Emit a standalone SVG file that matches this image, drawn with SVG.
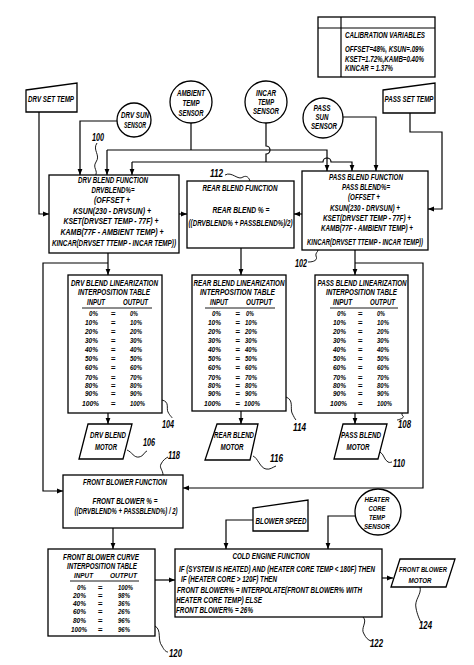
<svg xmlns="http://www.w3.org/2000/svg" width="474" height="665" viewBox="0 0 474 665">
<style>
.l{fill:none;stroke:#000;stroke-width:1.2}
.s{fill:none;stroke:#000;stroke-width:0.9}
.b{fill:#fff;stroke:#000;stroke-width:1.3}
text{font-family:"Liberation Sans",Arial,"DejaVu Sans",sans-serif;font-weight:bold;font-style:italic;font-size:9px;fill:#000}
.c{text-anchor:middle}
.n{font-size:10px}
.r text,text.r{font-size:8px}
</style>
<defs>
<marker id="a" markerWidth="6" markerHeight="6" refX="6" refY="3" orient="auto" markerUnits="userSpaceOnUse"><path d="M0,0.6 L6,3 L0,5.4 z"/></marker>
</defs>
<rect width="474" height="665" fill="#fff"/>

<g id="connectors">
<path class="l" d="M39,112 V214 H49" marker-end="url(#a)"/>
<path class="l" d="M117,121 H80 V175" marker-end="url(#a)"/>
<path class="l" d="M191,123 V150"/>
<path class="l" d="M107,150 V175" marker-end="url(#a)"/>
<path class="l" d="M107,150 H327 V171" marker-end="url(#a)"/>
<path class="l" d="M266,123 V146 A4,4 0 0 1 266,154 V162"/>
<path class="l" d="M132,162 V175" marker-end="url(#a)"/>
<path class="l" d="M132,162 H323 A4,4 0 0 1 331,162 H352 V171" marker-end="url(#a)"/>
<path class="l" d="M343,117 H376 V171" marker-end="url(#a)"/>
<path class="l" d="M410,113 V132 H442 V209 H428" marker-end="url(#a)"/>
<path class="l" d="M179,214 H187" marker-end="url(#a)"/>
<path class="l" d="M302,214 H294" marker-end="url(#a)"/>
<path class="l" d="M108,253 V275" marker-end="url(#a)"/>
<path class="l" d="M108,263 H43 V491 H63" marker-end="url(#a)"/>
<path class="l" d="M241,248 V275" marker-end="url(#a)"/>
<path class="l" d="M355,250 V275" marker-end="url(#a)"/>
<path class="l" d="M355,263 H423 V488 H183" marker-end="url(#a)"/>
<path class="l" d="M108,413 V424" marker-end="url(#a)"/>
<path class="l" d="M241,411 V424" marker-end="url(#a)"/>
<path class="l" d="M355,413 V424" marker-end="url(#a)"/>
<path class="l" d="M113,528 V549" marker-end="url(#a)"/>
<path class="l" d="M155,580 H175" marker-end="url(#a)"/>
<path class="l" d="M253,520 H226 V549" marker-end="url(#a)"/>
<path class="l" d="M355,516 H328 V549" marker-end="url(#a)"/>
<path class="l" d="M382,578 H393" marker-end="url(#a)"/>
<path class="s" d="M97,143 C92,150 101,155 96,162 C92,168 99,171 95,176"/>
<path class="s" d="M225,175 C232,171 238,181 243,177 C247,175 249,178 250,181"/>
<path class="s" d="M308,262 C314,262 318,260 316,256 C315,253 318,252 318,250"/>
<path class="s" d="M162,400 C170,402 166,408 168,412 C170,416 172,417 172,418"/>
<path class="s" d="M286,397 C294,400 290,408 292,413 C294,417 295,419 296,420"/>
<path class="s" d="M408,408 C404,410 400,414 403,416 C405,418 398,420 397,420"/>
<path class="s" d="M127,450 C132,452 134,458 139,457 C144,456 144,452 147,451"/>
<path class="s" d="M253,456 C258,458 260,468 266,469 C270,470 273,467 276,466"/>
<path class="s" d="M380,452 C384,454 384,460 388,462 C390,463 391,462 392,462"/>
<path class="s" d="M163,475 C163,470 159,468 161,464 C163,460 166,458 168,457"/>
<path class="s" d="M155,626 C162,630 157,640 162,646 C164,650 166,652 168,652"/>
<path class="s" d="M363,617 C368,622 360,628 364,634 C366,638 368,640 371,641"/>
<path class="s" d="M420,587 C422,594 414,600 416,608 C417,614 420,621 421,622"/>
</g>

<g id="calibration">
<rect class="b" x="318" y="17" width="117" height="60"/>
<path class="l" d="M318,28 H435 M341,17 V77"/>
<text x="345" y="38" textLength="80" lengthAdjust="spacingAndGlyphs">CALIBRATION VARIABLES</text>
<text x="345" y="52" textLength="79" lengthAdjust="spacingAndGlyphs">OFFSET=48%, KSUN=.09%</text>
<text x="345" y="62" textLength="79" lengthAdjust="spacingAndGlyphs">KSET=1.72%,KAMB=0.40%</text>
<text x="345" y="71" textLength="48" lengthAdjust="spacingAndGlyphs">KINCAR = 1.37%</text>
</g>

<g id="drv-set-temp">
<polygon class="b" points="26,90 77,83 77,112 26,112"/>
<text class="c" x="51" y="102" textLength="46" lengthAdjust="spacingAndGlyphs">DRV SET TEMP</text>
</g>
<g id="pass-set-temp">
<polygon class="b" points="383,90 435,83 435,113 383,113"/>
<text class="c" x="409" y="102" textLength="49" lengthAdjust="spacingAndGlyphs">PASS SET TEMP</text>
</g>

<g id="drv-sun-sensor">
<circle class="b" cx="134" cy="120" r="17"/>
<text class="c" x="135" y="118" textLength="28" lengthAdjust="spacingAndGlyphs">DRV SUN</text>
<text class="c" x="135" y="128" textLength="22" lengthAdjust="spacingAndGlyphs">SENSOR</text>
</g>
<g id="ambient-sensor">
<circle class="b" cx="191" cy="102" r="21"/>
<text class="c" x="191" y="96" textLength="28" lengthAdjust="spacingAndGlyphs">AMBIENT</text>
<text class="c" x="191" y="106" textLength="17" lengthAdjust="spacingAndGlyphs">TEMP</text>
<text class="c" x="191" y="116" textLength="25" lengthAdjust="spacingAndGlyphs">SENSOR</text>
</g>
<g id="incar-sensor">
<circle class="b" cx="266" cy="102" r="21"/>
<text class="c" x="266" y="96" textLength="20" lengthAdjust="spacingAndGlyphs">INCAR</text>
<text class="c" x="266" y="105" textLength="16" lengthAdjust="spacingAndGlyphs">TEMP</text>
<text class="c" x="266" y="114" textLength="26" lengthAdjust="spacingAndGlyphs">SENSOR</text>
</g>
<g id="pass-sun-sensor">
<circle class="b" cx="323" cy="118" r="20"/>
<text class="c" x="322" y="111" textLength="17" lengthAdjust="spacingAndGlyphs">PASS</text>
<text class="c" x="322" y="120" textLength="13" lengthAdjust="spacingAndGlyphs">SUN</text>
<text class="c" x="324" y="129" textLength="26" lengthAdjust="spacingAndGlyphs">SENSOR</text>
</g>

<g id="drv-blend-function">
<rect class="b" x="49" y="175" width="130" height="78"/>
<text class="c" x="113" y="183" textLength="70" lengthAdjust="spacingAndGlyphs">DRV BLEND FUNCTION</text>
<text class="c" x="113" y="193" textLength="43" lengthAdjust="spacingAndGlyphs">DRVBLEND%=</text>
<text class="c" x="112" y="203" textLength="36" lengthAdjust="spacingAndGlyphs">(OFFSET +</text>
<text class="c" x="112" y="214" textLength="78" lengthAdjust="spacingAndGlyphs">KSUN(230 - DRVSUN) +</text>
<text class="c" x="111" y="224" textLength="95" lengthAdjust="spacingAndGlyphs">KSET(DRVSET TEMP - 77F) +</text>
<text class="c" x="112" y="235" textLength="103" lengthAdjust="spacingAndGlyphs">KAMB(77F - AMBIENT TEMP) +</text>
<text class="c" x="114" y="246" textLength="124" lengthAdjust="spacingAndGlyphs">KINCAR(DRVSET TTEMP - INCAR TEMP))</text>
</g>
<g id="rear-blend-function">
<rect class="b" x="187" y="181" width="107" height="67"/>
<text class="c" x="240" y="191" textLength="75" lengthAdjust="spacingAndGlyphs">REAR BLEND FUNCTION</text>
<text class="c" x="241" y="213" textLength="57" lengthAdjust="spacingAndGlyphs">REAR BLEND % =</text>
<text class="c" x="240.5" y="226" textLength="104" lengthAdjust="spacingAndGlyphs">((DRVBLEND% + PASSBLEND%)/2)</text>
</g>
<g id="pass-blend-function">
<rect class="b" x="302" y="171" width="126" height="79"/>
<text class="c" x="366" y="180" textLength="74" lengthAdjust="spacingAndGlyphs">PASS BLEND FUNCTION</text>
<text class="c" x="366" y="190" textLength="48" lengthAdjust="spacingAndGlyphs">PASS BLEND%=</text>
<text class="c" x="364" y="200" textLength="32" lengthAdjust="spacingAndGlyphs">(OFFSET +</text>
<text class="c" x="365" y="211" textLength="70" lengthAdjust="spacingAndGlyphs">KSUN(230 - DRVSUN) +</text>
<text class="c" x="367" y="221" textLength="88" lengthAdjust="spacingAndGlyphs">KSET(DRVSET TEMP - 77F) +</text>
<text class="c" x="367" y="231" textLength="92" lengthAdjust="spacingAndGlyphs">KAMB(77F - AMBIENT TEMP) +</text>
<text class="c" x="365" y="245" textLength="116" lengthAdjust="spacingAndGlyphs">KINCAR(DRVSET TTEMP - INCAR TEMP))</text>
</g>

<g id="drv-table">
<rect class="b" x="68" y="275" width="94" height="138"/>
<text class="c" x="114.5" y="286" textLength="87" lengthAdjust="spacingAndGlyphs">DRV BLEND LINEARIZATION</text>
<text class="c" x="114" y="295" textLength="72" lengthAdjust="spacingAndGlyphs">INTERPOSITION TABLE</text>
<text class="c" x="96" y="305" textLength="18" lengthAdjust="spacingAndGlyphs">INPUT</text>
<text class="c" x="135.5" y="305" textLength="25" lengthAdjust="spacingAndGlyphs">OUTPUT</text>
<path class="s" d="M82,308 H152"/>
<g class="r">
<text x="89" y="316" textLength="9" lengthAdjust="spacingAndGlyphs">0%</text>
<text x="85" y="325" textLength="13" lengthAdjust="spacingAndGlyphs">10%</text>
<text x="85" y="334" textLength="13" lengthAdjust="spacingAndGlyphs">20%</text>
<text x="85" y="343" textLength="13" lengthAdjust="spacingAndGlyphs">30%</text>
<text x="85" y="352" textLength="13" lengthAdjust="spacingAndGlyphs">40%</text>
<text x="85" y="361" textLength="13" lengthAdjust="spacingAndGlyphs">50%</text>
<text x="85" y="370" textLength="13" lengthAdjust="spacingAndGlyphs">60%</text>
<text x="85" y="380" textLength="13" lengthAdjust="spacingAndGlyphs">70%</text>
<text x="85" y="388" textLength="13" lengthAdjust="spacingAndGlyphs">80%</text>
<text x="85" y="396" textLength="13" lengthAdjust="spacingAndGlyphs">90%</text>
<text x="82" y="406" textLength="17" lengthAdjust="spacingAndGlyphs">100%</text>
<text class="c" x="113" y="316">=</text><text class="c" x="113" y="325">=</text><text class="c" x="113" y="334">=</text><text class="c" x="113" y="343">=</text><text class="c" x="113" y="352">=</text><text class="c" x="113" y="361">=</text><text class="c" x="113" y="370">=</text><text class="c" x="113" y="380">=</text><text class="c" x="113" y="388">=</text><text class="c" x="113" y="396">=</text><text class="c" x="113" y="406">=</text>
<text x="130" y="316" textLength="8" lengthAdjust="spacingAndGlyphs">0%</text>
<text x="130" y="325" textLength="12" lengthAdjust="spacingAndGlyphs">10%</text>
<text x="130" y="334" textLength="12" lengthAdjust="spacingAndGlyphs">20%</text>
<text x="130" y="343" textLength="12" lengthAdjust="spacingAndGlyphs">30%</text>
<text x="130" y="352" textLength="12" lengthAdjust="spacingAndGlyphs">40%</text>
<text x="130" y="361" textLength="12" lengthAdjust="spacingAndGlyphs">50%</text>
<text x="130" y="370" textLength="12" lengthAdjust="spacingAndGlyphs">60%</text>
<text x="130" y="380" textLength="12" lengthAdjust="spacingAndGlyphs">70%</text>
<text x="130" y="388" textLength="12" lengthAdjust="spacingAndGlyphs">80%</text>
<text x="130" y="396" textLength="12" lengthAdjust="spacingAndGlyphs">90%</text>
<text x="130" y="406" textLength="15" lengthAdjust="spacingAndGlyphs">100%</text>
</g>
</g>

<g id="rear-table">
<rect class="b" x="192" y="275" width="94" height="136"/>
<text class="c" x="239" y="286" textLength="91" lengthAdjust="spacingAndGlyphs">REAR BLEND LINEARIZATION</text>
<text class="c" x="237.5" y="295" textLength="75" lengthAdjust="spacingAndGlyphs">INTERPOSITION TABLE</text>
<text class="c" x="219" y="305" textLength="18" lengthAdjust="spacingAndGlyphs">INPUT</text>
<text class="c" x="259" y="305" textLength="26" lengthAdjust="spacingAndGlyphs">OUTPUT</text>
<path class="s" d="M205,308 H275"/>
<g class="r">
<text x="212" y="316" textLength="9" lengthAdjust="spacingAndGlyphs">0%</text>
<text x="208" y="325" textLength="13" lengthAdjust="spacingAndGlyphs">10%</text>
<text x="208" y="334" textLength="13" lengthAdjust="spacingAndGlyphs">20%</text>
<text x="208" y="343" textLength="13" lengthAdjust="spacingAndGlyphs">30%</text>
<text x="208" y="352" textLength="13" lengthAdjust="spacingAndGlyphs">40%</text>
<text x="208" y="361" textLength="13" lengthAdjust="spacingAndGlyphs">50%</text>
<text x="208" y="370" textLength="13" lengthAdjust="spacingAndGlyphs">60%</text>
<text x="208" y="380" textLength="13" lengthAdjust="spacingAndGlyphs">70%</text>
<text x="208" y="388" textLength="13" lengthAdjust="spacingAndGlyphs">80%</text>
<text x="208" y="396" textLength="13" lengthAdjust="spacingAndGlyphs">90%</text>
<text x="204" y="406" textLength="17" lengthAdjust="spacingAndGlyphs">100%</text>
<text class="c" x="237.5" y="316">=</text><text class="c" x="237.5" y="325">=</text><text class="c" x="237.5" y="334">=</text><text class="c" x="237.5" y="343">=</text><text class="c" x="237.5" y="352">=</text><text class="c" x="237.5" y="361">=</text><text class="c" x="237.5" y="370">=</text><text class="c" x="237.5" y="380">=</text><text class="c" x="237.5" y="388">=</text><text class="c" x="237.5" y="396">=</text><text class="c" x="237.5" y="406">=</text>
<text x="246" y="316" textLength="8" lengthAdjust="spacingAndGlyphs">0%</text>
<text x="245" y="325" textLength="12" lengthAdjust="spacingAndGlyphs">10%</text>
<text x="245" y="334" textLength="12" lengthAdjust="spacingAndGlyphs">20%</text>
<text x="245" y="343" textLength="12" lengthAdjust="spacingAndGlyphs">30%</text>
<text x="245" y="352" textLength="12" lengthAdjust="spacingAndGlyphs">40%</text>
<text x="245" y="361" textLength="12" lengthAdjust="spacingAndGlyphs">50%</text>
<text x="245" y="370" textLength="12" lengthAdjust="spacingAndGlyphs">60%</text>
<text x="245" y="380" textLength="12" lengthAdjust="spacingAndGlyphs">70%</text>
<text x="245" y="388" textLength="12" lengthAdjust="spacingAndGlyphs">80%</text>
<text x="245" y="396" textLength="12" lengthAdjust="spacingAndGlyphs">90%</text>
<text x="244" y="406" textLength="16" lengthAdjust="spacingAndGlyphs">100%</text>
</g>
</g>

<g id="pass-table">
<rect class="b" x="315" y="275" width="93" height="138"/>
<text class="c" x="362" y="286" textLength="89" lengthAdjust="spacingAndGlyphs">PASS BLEND LINEARIZATION</text>
<text class="c" x="361.5" y="295" textLength="71" lengthAdjust="spacingAndGlyphs">INTERPOSITION TABLE</text>
<text class="c" x="342.5" y="305" textLength="19" lengthAdjust="spacingAndGlyphs">INPUT</text>
<text class="c" x="382.5" y="305" textLength="25" lengthAdjust="spacingAndGlyphs">OUTPUT</text>
<path class="s" d="M330,308 H398"/>
<g class="r">
<text x="337" y="316" textLength="9" lengthAdjust="spacingAndGlyphs">0%</text>
<text x="333" y="325" textLength="13" lengthAdjust="spacingAndGlyphs">10%</text>
<text x="333" y="334" textLength="13" lengthAdjust="spacingAndGlyphs">20%</text>
<text x="333" y="343" textLength="13" lengthAdjust="spacingAndGlyphs">30%</text>
<text x="333" y="352" textLength="13" lengthAdjust="spacingAndGlyphs">40%</text>
<text x="333" y="361" textLength="13" lengthAdjust="spacingAndGlyphs">50%</text>
<text x="333" y="370" textLength="13" lengthAdjust="spacingAndGlyphs">60%</text>
<text x="333" y="380" textLength="13" lengthAdjust="spacingAndGlyphs">70%</text>
<text x="333" y="388" textLength="13" lengthAdjust="spacingAndGlyphs">80%</text>
<text x="333" y="396" textLength="13" lengthAdjust="spacingAndGlyphs">90%</text>
<text x="330" y="406" textLength="17" lengthAdjust="spacingAndGlyphs">100%</text>
<text class="c" x="360" y="316">=</text><text class="c" x="360" y="325">=</text><text class="c" x="360" y="334">=</text><text class="c" x="360" y="343">=</text><text class="c" x="360" y="352">=</text><text class="c" x="360" y="361">=</text><text class="c" x="360" y="370">=</text><text class="c" x="360" y="380">=</text><text class="c" x="360" y="388">=</text><text class="c" x="360" y="396">=</text><text class="c" x="360" y="406">=</text>
<text x="377" y="316" textLength="8" lengthAdjust="spacingAndGlyphs">0%</text>
<text x="377" y="325" textLength="12" lengthAdjust="spacingAndGlyphs">10%</text>
<text x="377" y="334" textLength="12" lengthAdjust="spacingAndGlyphs">20%</text>
<text x="377" y="343" textLength="12" lengthAdjust="spacingAndGlyphs">30%</text>
<text x="377" y="352" textLength="12" lengthAdjust="spacingAndGlyphs">40%</text>
<text x="377" y="361" textLength="12" lengthAdjust="spacingAndGlyphs">50%</text>
<text x="377" y="370" textLength="12" lengthAdjust="spacingAndGlyphs">60%</text>
<text x="377" y="380" textLength="12" lengthAdjust="spacingAndGlyphs">70%</text>
<text x="377" y="388" textLength="12" lengthAdjust="spacingAndGlyphs">80%</text>
<text x="377" y="396" textLength="12" lengthAdjust="spacingAndGlyphs">90%</text>
<text x="377" y="406" textLength="15" lengthAdjust="spacingAndGlyphs">100%</text>
</g>
</g>

<g id="drv-blend-motor">
<polygon class="b" points="88,424 132,424 123,459 79,459"/>
<text class="c" x="108" y="438" textLength="36" lengthAdjust="spacingAndGlyphs">DRV BLEND</text>
<text class="c" x="106" y="450" textLength="22" lengthAdjust="spacingAndGlyphs">MOTOR</text>
</g>
<g id="rear-blend-motor">
<polygon class="b" points="217,424 258,424 250,460 205,460"/>
<text class="c" x="234" y="438" textLength="40" lengthAdjust="spacingAndGlyphs">REAR BLEND</text>
<text class="c" x="232" y="450" textLength="23" lengthAdjust="spacingAndGlyphs">MOTOR</text>
</g>
<g id="pass-blend-motor">
<polygon class="b" points="343,424 387,424 378,459 334,459"/>
<text class="c" x="361" y="438" textLength="40" lengthAdjust="spacingAndGlyphs">PASS BLEND</text>
<text class="c" x="358" y="450" textLength="23" lengthAdjust="spacingAndGlyphs">MOTOR</text>
</g>

<g id="front-blower-function">
<rect class="b" x="63" y="475" width="120" height="53"/>
<text class="c" x="125" y="485" textLength="84" lengthAdjust="spacingAndGlyphs">FRONT BLOWER FUNCTION</text>
<text class="c" x="125" y="504" textLength="65" lengthAdjust="spacingAndGlyphs">FRONT BLOWER % =</text>
<text class="c" x="126" y="514" textLength="103" lengthAdjust="spacingAndGlyphs">((DRVBLEND% + PASSBLEND%) / 2)</text>
</g>

<g id="front-blower-curve">
<rect class="b" x="48" y="549" width="107" height="87"/>
<text class="c" x="101" y="560" textLength="76" lengthAdjust="spacingAndGlyphs">FRONT BLOWER CURVE</text>
<text class="c" x="102" y="569" textLength="70" lengthAdjust="spacingAndGlyphs">INTERPOSITION TABLE</text>
<text class="c r" x="83.5" y="578" textLength="19" lengthAdjust="spacingAndGlyphs">INPUT</text>
<text class="c r" x="123.5" y="578" textLength="27" lengthAdjust="spacingAndGlyphs">OUTPUT</text>
<path class="s" d="M70,581 H139"/>
<g class="r">
<text x="77" y="590" textLength="9" lengthAdjust="spacingAndGlyphs">0%</text>
<text x="73" y="598" textLength="13" lengthAdjust="spacingAndGlyphs">20%</text>
<text x="73" y="606" textLength="13" lengthAdjust="spacingAndGlyphs">40%</text>
<text x="73" y="614" textLength="13" lengthAdjust="spacingAndGlyphs">60%</text>
<text x="73" y="623" textLength="13" lengthAdjust="spacingAndGlyphs">80%</text>
<text x="71" y="632" textLength="16" lengthAdjust="spacingAndGlyphs">100%</text>
<text class="c" x="100" y="590">=</text><text class="c" x="100" y="598">=</text><text class="c" x="100" y="606">=</text><text class="c" x="100" y="614">=</text><text class="c" x="100" y="623">=</text><text class="c" x="100" y="632">=</text>
<text x="118" y="590" textLength="15" lengthAdjust="spacingAndGlyphs">100%</text>
<text x="118" y="598" textLength="12" lengthAdjust="spacingAndGlyphs">98%</text>
<text x="118" y="606" textLength="12" lengthAdjust="spacingAndGlyphs">36%</text>
<text x="118" y="614" textLength="12" lengthAdjust="spacingAndGlyphs">26%</text>
<text x="118" y="623" textLength="12" lengthAdjust="spacingAndGlyphs">96%</text>
<text x="118" y="632" textLength="12" lengthAdjust="spacingAndGlyphs">96%</text>
</g>
</g>

<g id="blower-speed">
<polygon class="b" points="253,508 308,500 308,531 253,531"/>
<text class="c" x="281" y="524" textLength="51" lengthAdjust="spacingAndGlyphs">BLOWER SPEED</text>
</g>
<g id="heater-core-sensor">
<circle class="b" cx="378" cy="512" r="23"/>
<g class="r">
<text class="c" x="377" y="502" textLength="25" lengthAdjust="spacingAndGlyphs">HEATER</text>
<text class="c" x="377" y="511" textLength="17" lengthAdjust="spacingAndGlyphs">CORE</text>
<text class="c" x="377" y="520" textLength="16" lengthAdjust="spacingAndGlyphs">TEMP</text>
<text class="c" x="377" y="529" textLength="26" lengthAdjust="spacingAndGlyphs">SENSOR</text>
</g>
</g>

<g id="cold-engine-function">
<rect class="b" x="175" y="549" width="207" height="68"/>
<text class="c" x="271" y="559" textLength="77" lengthAdjust="spacingAndGlyphs">COLD ENGINE FUNCTION</text>
<text x="179" y="572" textLength="196" lengthAdjust="spacingAndGlyphs">IF (SYSTEM IS HEATED) AND (HEATER CORE TEMP &lt; 180F) THEN</text>
<text x="181" y="582" textLength="96" lengthAdjust="spacingAndGlyphs"> IF (HEATER CORE &gt; 120F) THEN</text>
<text x="177" y="593" textLength="185" lengthAdjust="spacingAndGlyphs">FRONT BLOWER% = INTERPOLATE(FRONT BLOWER% WITH</text>
<text x="176" y="603" textLength="86" lengthAdjust="spacingAndGlyphs">HEATER CORE TEMP) ELSE</text>
<text x="176" y="613" textLength="77" lengthAdjust="spacingAndGlyphs">FRONT BLOWER% = 26%</text>
</g>

<g id="front-blower-motor">
<polygon class="b" points="400,559 455,559 446,587 391,587"/>
<g class="r">
<text class="c" x="423" y="572" textLength="48" lengthAdjust="spacingAndGlyphs">FRONT BLOWER</text>
<text class="c" x="420" y="583" textLength="23" lengthAdjust="spacingAndGlyphs">MOTOR</text>
</g>
</g>

<g id="labels">
<text class="n" x="92" y="141" textLength="12" lengthAdjust="spacingAndGlyphs">100</text>
<text class="n" x="210" y="177" textLength="13" lengthAdjust="spacingAndGlyphs">112</text>
<text class="n" x="295" y="267" textLength="12" lengthAdjust="spacingAndGlyphs">102</text>
<text class="n" x="162" y="428" textLength="12" lengthAdjust="spacingAndGlyphs">104</text>
<text class="n" x="293" y="431" textLength="13" lengthAdjust="spacingAndGlyphs">114</text>
<text class="n" x="398" y="428" textLength="13" lengthAdjust="spacingAndGlyphs">108</text>
<text class="n" x="143" y="446" textLength="12" lengthAdjust="spacingAndGlyphs">106</text>
<text class="n" x="270" y="462" textLength="13" lengthAdjust="spacingAndGlyphs">116</text>
<text class="n" x="393" y="467" textLength="12" lengthAdjust="spacingAndGlyphs">110</text>
<text class="n" x="168" y="459" textLength="12" lengthAdjust="spacingAndGlyphs">118</text>
<text class="n" x="169" y="657" textLength="13" lengthAdjust="spacingAndGlyphs">120</text>
<text class="n" x="370" y="647" textLength="13" lengthAdjust="spacingAndGlyphs">122</text>
<text class="n" x="419" y="629" textLength="13" lengthAdjust="spacingAndGlyphs">124</text>
</g>
</svg>
